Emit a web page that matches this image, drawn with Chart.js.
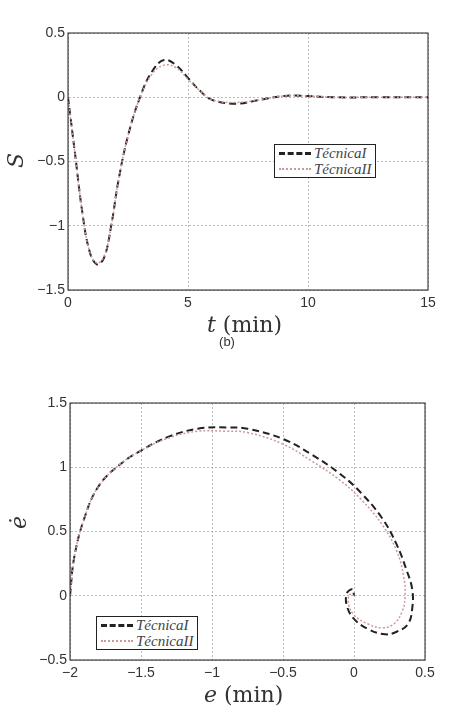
<!DOCTYPE html>
<html lang="es">
<head>
<meta charset="UTF-8">
<script src="https://cdn.jsdelivr.net/npm/chart.js"></script>
<style>
  body { margin: 0; width: 454px; height: 707px; background: #fff; position: relative; overflow: hidden; font-family: "Liberation Sans", Arial, sans-serif; }
  .box { position: absolute; left: 0; width: 454px; }
  .lbl { position: absolute; font-family: "DejaVu Serif", "Liberation Serif", serif; color: #333; font-size: 22px; }
  .lbl i { font-style: italic; }
  .legend { position: absolute; background: #fff; border: 1px solid #222; font-family: "Liberation Serif", serif; font-style: italic; font-size: 15px; color: #444; padding: 0 4px; line-height: 16px; }
  .legend div { display: flex; align-items: center; }
  .legend span.ln { display: inline-block; width: 32px; margin-right: 3px; }
</style>
</head>
<body>
<div class="box" style="top:0;height:315px"><canvas id="top"></canvas></div>
<div class="box" style="top:370px;height:315px"><canvas id="bottom"></canvas></div>

<div class="lbl" style="left:8px;top:148px;transform:rotate(-90deg)"><i>S</i></div>
<div class="lbl" style="left:207px;top:312px"><i>t</i> (min)</div>
<div style="position:absolute;left:0;width:454px;top:334px;text-align:center;font-size:13px;color:#333">(b)</div>
<div class="lbl" style="left:12px;top:510px;transform:rotate(-90deg)"><i>ė</i></div>
<div class="lbl" style="left:204px;top:682px"><i>e</i> (min)</div>

<div class="legend" style="left:274px;top:144px">
  <div><span class="ln" style="border-top:3px dashed #222"></span>Técnica<i>I</i></div>
  <div><span class="ln" style="border-top:2px dotted #c99"></span>Técnica<i>II</i></div>
</div>
<div class="legend" style="left:96px;top:616px">
  <div><span class="ln" style="border-top:3px dashed #222"></span>Técnica<i>I</i></div>
  <div><span class="ln" style="border-top:2px dotted #c99"></span>Técnica<i>II</i></div>
</div>

<script>
// S(t) response
const tI  = [0, 0.3, 0.6, 0.9, 1.2, 1.5, 1.8, 2.1, 2.5, 3.0, 3.5, 4.0, 4.5, 5.0, 5.5, 6.0, 7.0, 8.0, 9.0, 10.0, 11.0, 13.0, 15.0];
const sI  = [0, -0.45, -0.9, -1.2, -1.3, -1.25, -1.0, -0.65, -0.3, 0.0, 0.2, 0.29, 0.25, 0.15, 0.05, -0.02, -0.05, -0.02, 0.01, 0.01, 0, 0, 0];
const sII = [0, -0.45, -0.9, -1.2, -1.29, -1.24, -1.0, -0.65, -0.3, 0.0, 0.18, 0.25, 0.23, 0.14, 0.05, -0.02, -0.04, -0.02, 0.01, 0.01, 0, 0, 0];

// phase plane e vs de/dt
const eI   = [-2, -1.97, -1.9, -1.8, -1.65, -1.5, -1.3, -1.1, -0.9, -0.75, -0.5, -0.3, -0.1, 0.05, 0.2, 0.3, 0.37, 0.41, 0.41, 0.38, 0.3, 0.22, 0.1, 0, -0.05, -0.05, -0.01, 0];
const edI  = [0, 0.3, 0.6, 0.85, 1.02, 1.13, 1.24, 1.3, 1.31, 1.3, 1.22, 1.1, 0.95, 0.8, 0.6, 0.4, 0.2, 0.05, -0.1, -0.22, -0.28, -0.3, -0.26, -0.18, -0.08, 0.02, 0.05, 0];
const eII  = [-2, -1.97, -1.9, -1.8, -1.65, -1.5, -1.3, -1.1, -0.9, -0.75, -0.5, -0.3, -0.1, 0.05, 0.2, 0.3, 0.35, 0.36, 0.34, 0.28, 0.2, 0.1, 0, -0.04, -0.03, 0];
const edII = [0, 0.3, 0.6, 0.85, 1.02, 1.13, 1.23, 1.28, 1.28, 1.27, 1.18, 1.05, 0.9, 0.75, 0.55, 0.35, 0.15, 0, -0.12, -0.22, -0.25, -0.22, -0.15, -0.06, 0.01, 0];

const tickFont = { family: "Liberation Sans", size: 14 };
const fmt = v => String(Math.round(v * 10) / 10).replace('-', '−');
const frame = {
  id: 'frame',
  afterDraw(c) {
    const a = c.chartArea, x = c.ctx;
    x.save(); x.strokeStyle = '#222'; x.lineWidth = 1;
    x.strokeRect(a.left, a.top, a.right - a.left, a.bottom - a.top);
    x.restore();
  }
};
const pts = (xs, ys) => xs.map((v, i) => ({ x: v, y: ys[i] }));

function makeChart(id, dI, dII, xr, yr) {
  return new Chart(document.getElementById(id), {
    type: 'scatter',
    data: { datasets: [
      { data: dII, showLine: true, borderColor: '#c99', borderDash: [2, 2], borderWidth: 1.5, pointRadius: 0, tension: 0.4 },
      { data: dI, showLine: true, borderColor: '#222', borderDash: [7, 4], borderWidth: 2, pointRadius: 0, tension: 0.4 }
    ]},
    options: {
      responsive: true, maintainAspectRatio: false, animation: false,
      layout: { padding: { top: xr.top, right: xr.right } },
      plugins: { legend: { display: false }, tooltip: { enabled: false } },
      scales: {
        x: { min: xr.min, max: xr.max, afterFit: s => { s.height = 25; },
             ticks: { stepSize: xr.step, color: '#333', font: tickFont, maxRotation: 0, padding: 5, callback: fmt },
             grid: { color: '#bbb', tickLength: 0, drawTicks: false }, border: { dash: [2, 2] } },
        y: { min: yr.min, max: yr.max, afterFit: s => { s.width = xr.left; },
             ticks: { stepSize: yr.step, color: '#333', font: tickFont, callback: fmt },
             grid: { color: '#bbb', drawTicks: false }, border: { dash: [2, 2] } }
      }
    },
    plugins: [frame]
  });
}

makeChart('top', pts(tI, sI), pts(tI, sII),
  { min: 0, max: 15, step: 5, left: 68, right: 26, top: 33 }, { min: -1.5, max: 0.5, step: 0.5 });
makeChart('bottom', pts(eI, edI), pts(eII, edII),
  { min: -2, max: 0.5, step: 0.5, left: 70, right: 29, top: 33 }, { min: -0.5, max: 1.5, step: 0.5 });
</script>
</body>
</html>
